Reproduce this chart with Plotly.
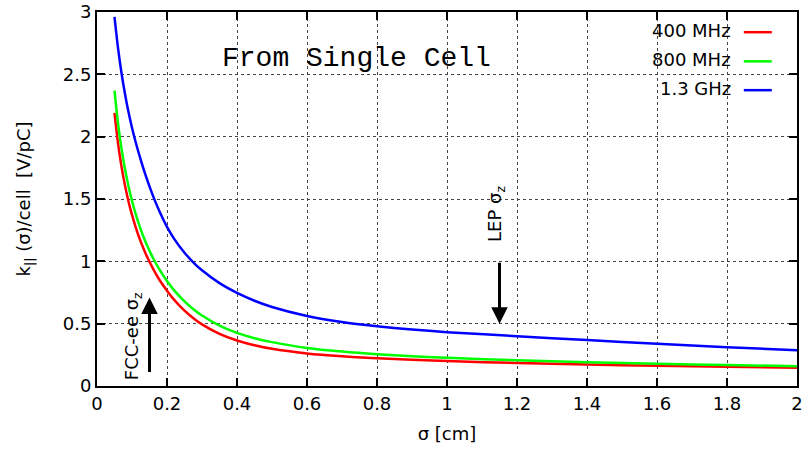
import plotly.graph_objects as go

# Bunch length sigma [cm]
sigma_cm = [0.05, 0.06, 0.07, 0.08, 0.09, 0.10, 0.11, 0.12, 0.13, 0.14, 0.16, 0.18,
            0.20, 0.22, 0.25, 0.28, 0.30, 0.35, 0.40, 0.45, 0.50, 0.60, 0.70, 0.80,
            0.90, 1.0, 1.2, 1.4, 1.6, 1.8, 2.0]

# Longitudinal loss factor per cell [V/pC]
k_400mhz = [2.19, 1.949, 1.760, 1.608, 1.480, 1.372, 1.278, 1.195, 1.122, 1.055, 0.941, 0.844,
            0.765, 0.693, 0.604, 0.533, 0.494, 0.418, 0.365, 0.327, 0.298, 0.261, 0.238, 0.222,
            0.210, 0.200, 0.184, 0.172, 0.162, 0.154, 0.147]
k_800mhz = [2.37, 2.109, 1.905, 1.740, 1.602, 1.485, 1.384, 1.296, 1.217, 1.147, 1.027, 0.927,
            0.842, 0.769, 0.679, 0.606, 0.566, 0.485, 0.426, 0.383, 0.352, 0.305, 0.276, 0.255,
            0.239, 0.226, 0.206, 0.190, 0.178, 0.168, 0.159]
k_1300mhz = [2.96, 2.712, 2.511, 2.343, 2.198, 2.072, 1.961, 1.861, 1.768, 1.681, 1.525, 1.391,
             1.276, 1.182, 1.069, 0.978, 0.928, 0.825, 0.747, 0.684, 0.634, 0.562, 0.514, 0.480,
             0.453, 0.432, 0.400, 0.368, 0.338, 0.311, 0.287]

series_names = ["400 MHz", "800 MHz", "1.3 GHz"]
series_values = [k_400mhz, k_800mhz, k_1300mhz]
series_colors = ["#ff0000", "#00ff00", "#0000ff"]

x_ticks = [0, 0.2, 0.4, 0.6, 0.8, 1.0, 1.2, 1.4, 1.6, 1.8, 2.0]
y_ticks = [0, 0.5, 1.0, 1.5, 2.0, 2.5, 3.0]

# Reference bunch lengths marked with arrows
fcc_sigma_z = 0.15
fcc_arrow_y = [0.10, 0.71]
lep_sigma_z = 1.15
lep_arrow_y = [1.0, 0.5]

FONT = "DejaVu Sans, Liberation Sans, Arial, sans-serif"
FS = 18
NB = "\u00a0"

fig = go.Figure()
for name, vals, col in zip(series_names, series_values, series_colors):
    fig.add_trace(go.Scatter(
        x=sigma_cm, y=vals, mode="lines", name=name,
        line=dict(color=col, width=2.5, shape="spline", smoothing=0.8),
        showlegend=False,
    ))

axis_common = dict(
    showline=True, linecolor="black", linewidth=2, mirror="ticks",
    ticks="inside", ticklen=8, tickwidth=1.5, tickcolor="black",
    showgrid=True, gridcolor="#444444", griddash="dot", gridwidth=1,
    zeroline=False, automargin=False,
    tickfont=dict(family=FONT, size=FS, color="black"),
)

fig.update_xaxes(range=[0, 2], tickvals=x_ticks,
                 title=dict(text="σ [cm]", font=dict(family=FONT, size=FS, color="black"),
                            standoff=15),
                 **axis_common)
fig.update_yaxes(range=[0, 3], tickvals=y_ticks,
                 title=dict(text=f"k<sub>||</sub> (σ)/cell{NB}{NB}[V/pC]",
                            font=dict(family=FONT, size=FS, color="black"),
                            standoff=27),
                 **axis_common)

annotations = []
shapes = []

# Legend: label text followed by a line sample, on an opaque box
shapes.append(dict(type="rect", xref="paper", yref="paper",
                   x0=0.783, x1=0.983, y0=0.746, y1=0.979,
                   fillcolor="white", line=dict(width=0), layer="between"))
legend_rows = [0.950, 0.872, 0.795]
for name, col, yr in zip(series_names, series_colors, legend_rows):
    annotations.append(dict(xref="paper", yref="paper", x=0.908, y=yr,
                            text=name, showarrow=False, xanchor="right", yanchor="middle",
                            font=dict(family=FONT, size=FS, color="black")))
    shapes.append(dict(type="line", xref="paper", yref="paper",
                       x0=0.924, x1=0.964, y0=yr - 0.004, y1=yr - 0.004,
                       line=dict(color=col, width=2.5), layer="above"))

# Title text inside plot
annotations.append(dict(xref="paper", yref="paper", x=0.371, y=0.877,
                        text="From Single Cell", showarrow=False,
                        xanchor="center", yanchor="middle",
                        font=dict(family="Liberation Mono, Courier New, monospace",
                                  size=28, color="black")))

# FCC-ee arrow and label
annotations.append(dict(x=fcc_sigma_z, y=fcc_arrow_y[1], ax=fcc_sigma_z, ay=fcc_arrow_y[0],
                        xref="x", yref="y", axref="x", ayref="y", text="",
                        showarrow=True, arrowhead=2, arrowsize=1.1, arrowwidth=3,
                        arrowcolor="black"))
annotations.append(dict(x=0.103, y=0.40, xref="x", yref="y",
                        text="FCC-ee σ<sub>z</sub>", showarrow=False, textangle=-90,
                        xanchor="center", yanchor="middle",
                        font=dict(family=FONT, size=FS, color="black")))

# LEP arrow and label
annotations.append(dict(x=lep_sigma_z, y=lep_arrow_y[1], ax=lep_sigma_z, ay=lep_arrow_y[0],
                        xref="x", yref="y", axref="x", ayref="y", text="",
                        showarrow=True, arrowhead=2, arrowsize=1.1, arrowwidth=3,
                        arrowcolor="black"))
annotations.append(dict(x=1.14, y=1.38, xref="x", yref="y",
                        text="LEP σ<sub>z</sub>", showarrow=False, textangle=-90,
                        xanchor="center", yanchor="middle",
                        font=dict(family=FONT, size=FS, color="black")))

fig.update_layout(
    width=806, height=453,
    margin=dict(l=97, r=9, t=12, b=67),
    paper_bgcolor="white", plot_bgcolor="white",
    annotations=annotations, shapes=shapes,
    font=dict(family=FONT, size=FS, color="black"),
)

fig.write_html("out.html")
